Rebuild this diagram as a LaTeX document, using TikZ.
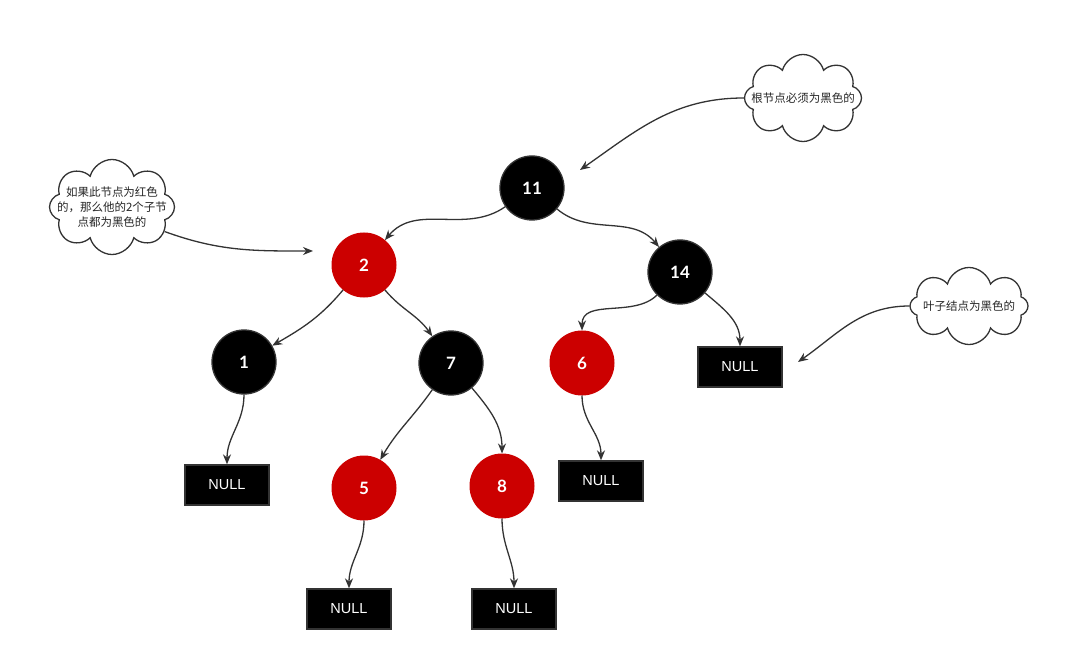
\documentclass[tikz,border=0pt]{standalone}
\usepackage{fontspec}
\setmainfont{Liberation Sans}
\newfontfamily\cjk{Noto Sans CJK SC}
\newfontfamily\numfont{Lato}
\usetikzlibrary{shapes.symbols,arrows.meta}
\definecolor{dark}{HTML}{333333}
\definecolor{rbred}{HTML}{CC0000}
\begin{document}
\begin{tikzpicture}[x=1pt,y=1pt,
  every node/.style={inner sep=0pt},
  blknode/.style={circle,minimum size=64pt,fill=black,draw=dark,line width=1.3pt,text=white,font=\numfont\bfseries\fontsize{17}{17}\selectfont},
  rednode/.style={circle,minimum size=64pt,fill=rbred,draw=rbred,line width=1pt,text=white,font=\numfont\bfseries\fontsize{17}{17}\selectfont},
  nullbox/.style={rectangle,minimum width=84pt,minimum height=40pt,fill=black,draw=dark,line width=1.3pt,text=white,font=\fontsize{14.5}{14.5}\selectfont},
  note/.style={cloud,cloud puffs=8,cloud ignores aspect,draw=dark,line width=1.3pt,fill=white},
  notetext/.style={align=center,font=\cjk\fontsize{11.5}{15}\selectfont,text=black!85},
  edge/.style={draw=dark,line width=1.3pt,-{Stealth[length=10pt,width=8pt]}}
]
\useasboundingbox (0,0) rectangle (1085,-671);
\fill[white] (0,0) rectangle (1085,-671);

% tree nodes
\node[blknode] (n11) at (532,-188) {11};
\node[rednode] (n2) at (364,-265) {2};
\node[blknode] (n14) at (680,-272) {14};
\node[blknode] (n1) at (244,-362) {1};
\node[blknode] (n7) at (451,-363) {7};
\node[rednode] (n6) at (582,-363) {6};
\node[nullbox] (nullR) at (740,-367) {NULL};
\node[rednode] (n5) at (364,-488) {5};
\node[rednode] (n8) at (502,-486) {8};
\node[nullbox] (null1) at (227,-485) {NULL};
\node[nullbox] (null6) at (601,-481) {NULL};
\node[nullbox] (null5) at (349,-609) {NULL};
\node[nullbox] (null8) at (514,-609) {NULL};

% clouds
\node[note,minimum width=125pt,minimum height=95pt,
  label={[notetext]center:{如果此节点为红色\\的，那么他的2个子节\\点都为黑色的}}] (c1) at (112,-207) {};
\node[note,minimum width=117pt,minimum height=87pt,
  label={[notetext]center:{根节点必须为黑色的}}] (c2) at (803,-98) {};
\node[note,minimum width=118pt,minimum height=77pt,
  label={[notetext]center:{叶子结点为黑色的}}] (c3) at (969,-306) {};

\coordinate (a1) at (313,-251);
\coordinate (a2) at (580,-170);
\coordinate (a3) at (798,-362);

% tree edges
\draw[edge] (n11) to[out=215,in=50] (n2);
\draw[edge] (n11) to[out=-40,in=130] (n14);
\draw[edge] (n2) to[out=-130,in=30] (n1);
\draw[edge] (n2) to[out=-50,in=125] (n7);
\draw[edge] (n14) to[out=-135,in=90] (n6);
\draw[edge] (n14) to[out=-40,in=90] (nullR);
\draw[edge] (n1) to[out=-90,in=90] (null1);
\draw[edge] (n7) to[out=-125,in=60] (n5);
\draw[edge] (n7) to[out=-50,in=90] (n8);
\draw[edge] (n6) to[out=-90,in=90] (null6);
\draw[edge] (n5) to[out=-90,in=90] (null5);
\draw[edge] (n8) to[out=-90,in=90] (null8);

% note arrows
\draw[edge] (c1.-25) to[out=-20,in=180] (a1);
\draw[edge] (c2.west) to[out=180,in=35] (a2);
\draw[edge] (c3.west) to[out=180,in=35] (a3);
\end{tikzpicture}
\end{document}
